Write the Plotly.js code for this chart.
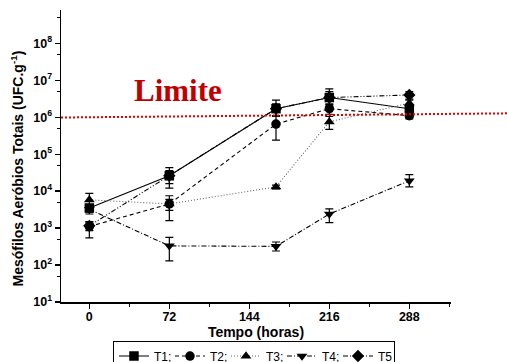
<!DOCTYPE html>
<html><head><meta charset="utf-8">
<script src="https://cdn.plot.ly/plotly-3.0.1.min.js"></script>
<style>html,body{margin:0;padding:0;background:#fff}#chart{width:507px;height:362px}</style>
</head><body><div id="chart"></div>
<script>
// ---- data ----
const hours = [0, 72, 168, 216, 288];
const seriesNames = ['T1;', 'T2;', 'T3;', 'T4;', 'T5'];
const t1 = [3500, 26000, 1.7e6, 3.4e6, 1.7e6];
const t1Plus = [800, 17000, 1.2e6, 2.4e6, 4e5];
const t1Minus = [800, 14000, 6e5, 1.2e6, 3e5];
const t2 = [1100, 4500, 6.5e5, 1.7e6, 1.1e6];
const t2Plus = [400, 3000, 4e5, 6e5, 2e5];
const t2Minus = [560, 2900, 4.1e5, 5e5, 2e5];
const t3 = [5800, 4500, 13000, 7.5e5, 2.4e6];
const t3Plus = [2900, 1500, 1500, 3e5, 5e5];
const t3Minus = [2000, 1500, 1500, 2.8e5, 5e5];
const t4 = [3200, 330, 320, 2400, 19000];
const t4Plus = [800, 230, 100, 900, 9000];
const t4Minus = [800, 200, 80, 1000, 6000];
const t5 = [1150, 26000, 1.7e6, 3.4e6, 4.0e6];
const t5Plus = [300, 10000, 6e5, 1.5e6, 9e5];
const t5Minus = [300, 10000, 6e5, 1.5e6, 9e5];
const limitX = [-25.5, 376];
const limitY = [9.8e5, 1.27e6];
const xTickVals = [0, 72, 144, 216, 288];
const xMinorVals = [36, 108, 180, 252, 324];
const yTickVals = [1e1, 1e2, 1e3, 1e4, 1e5, 1e6, 1e7, 1e8];
const yTickText = ['10<sup>1</sup>', '10<sup>2</sup>', '10<sup>3</sup>', '10<sup>4</sup>', '10<sup>5</sup>', '10<sup>6</sup>', '10<sup>7</sup>', '10<sup>8</sup>'];
const yMinorVals = [5e1, 5e2, 5e3, 5e4, 5e5, 5e6, 5e7, 5e8];

const FONT = 'Liberation Sans, Arial, sans-serif';
const values = [t1, t2, t3, t4, t5];
const plus = [t1Plus, t2Plus, t3Plus, t4Plus, t5Plus];
const minus = [t1Minus, t2Minus, t3Minus, t4Minus, t5Minus];
const symbols = ['square', 'circle', 'triangle-up', 'triangle-down', 'diamond'];
const dashes = ['solid', '4px,3px', '1px,2px', '5px,2px,1px,2px', '5px,2px,1px,2px,1px,2px'];
const lineColors = ['#000', '#000', '#666', '#000', '#000'];

const traces = values.map((v, i) => ({
  x: hours, y: v, name: seriesNames[i], type: 'scatter', mode: 'lines+markers',
  line: {color: lineColors[i], width: 1.1, dash: dashes[i]},
  marker: {symbol: symbols[i], size: 9.5, color: '#000', line: {width: 0}},
  error_y: {type: 'data', symmetric: false, array: plus[i], arrayminus: minus[i], color: '#000', thickness: 1.2, width: 4},
  xaxis: 'x', yaxis: 'y'
}));
traces.push({
  x: limitX, y: limitY, type: 'scatter', mode: 'lines', showlegend: false, hoverinfo: 'skip',
  line: {color: '#e00000', width: 2, dash: '2px,2px'}, xaxis: 'x2', yaxis: 'y'
});

const layout = {
  width: 507, height: 362,
  margin: {l: 61, r: 0, t: 10, b: 60, autoexpand: false},
  paper_bgcolor: '#fff', plot_bgcolor: 'rgba(0,0,0,0)',
  font: {family: FONT, color: '#000'},
  showlegend: true,
  xaxis: {
    domain: [0, 0.8744], range: [-25.5, 325.5], anchor: 'y',
    tickmode: 'array', tickvals: xTickVals,
    ticks: 'outside', ticklen: 5, tickwidth: 1.3, tickcolor: '#000', ticklabelstandoff: -3,
    showline: true, linecolor: '#000', linewidth: 1.5, showgrid: false, zeroline: false,
    minor: {tickmode: 'array', tickvals: xMinorVals, ticks: 'outside', ticklen: 3, tickwidth: 1.2, tickcolor: '#000', showgrid: false},
    tickfont: {family: FONT, size: 12.5, weight: 'bold'},
    title: {text: 'Tempo (horas)', font: {family: FONT, size: 14, weight: 'bold'}, standoff: 4}
  },
  xaxis2: {domain: [0, 1], range: [-25.5, 375.9], anchor: 'y', visible: false, showgrid: false, zeroline: false},
  yaxis: {
    type: 'log', range: [1, 8.9], anchor: 'x',
    tickmode: 'array', tickvals: yTickVals, ticktext: yTickText,
    ticks: 'outside', ticklen: 5, tickwidth: 1.3, tickcolor: '#000',
    showline: true, linecolor: '#000', linewidth: 1.5, showgrid: false, zeroline: false,
    minor: {tickmode: 'array', tickvals: yMinorVals, ticks: 'outside', ticklen: 3, tickwidth: 1.2, tickcolor: '#000', showgrid: false},
    tickfont: {family: FONT, size: 12.5, weight: 'bold'}
  },
  legend: {
    orientation: 'h', x: 0.4327, xanchor: 'center', y: -0.132, yanchor: 'top',
    bordercolor: '#000', borderwidth: 1, bgcolor: '#fff',
    font: {family: FONT, size: 12}, tracegroupgap: 0, itemwidth: 30,
    entrywidth: 11, entrywidthmode: 'pixels'
  },
  annotations: [{
    text: 'Limite', xref: 'paper', yref: 'paper', x: 0.262, y: 0.725, xanchor: 'center', yanchor: 'middle', showarrow: false,
    font: {family: 'Liberation Serif, Times New Roman, serif', size: 31, weight: 'bold', color: '#c00000'}
  }, {
    text: 'Mesófilos Aeróbios Totais (UFC.g<sup>-1</sup>)', xref: 'paper', yref: 'paper', x: -0.0987, y: 0.457,
    xanchor: 'center', yanchor: 'middle', textangle: -90, showarrow: false,
    font: {family: FONT, size: 14, weight: 'bold', color: '#000'}
  }]
};
Plotly.newPlot('chart', traces, layout, {staticPlot: true, displayModeBar: false});
</script>
</body></html>
